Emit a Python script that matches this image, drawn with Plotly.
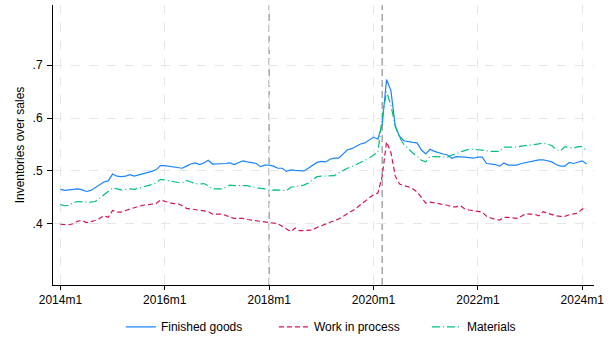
import plotly.graph_objects as go

# Monthly ratios of inventories to sales, 2014m1 .. 2024m2
start_year = 2014
finished_goods = [
    .465, .463, .464, .465, .466, .464, .461, .463, .468, .473, .479, .481,
    .494, .490, .489, .490, .493, .490, .492, .494, .496, .499, .502, .510,
    .510, .509, .508, .506, .505, .509, .513, .515, .512, .515, .520, .513,
    .513, .513, .514, .515, .512, .516, .519, .517, .515, .514, .508, .511,
    .511, .509, .505, .505, .499, .502, .501, .500, .500, .505, .511, .516,
    .518, .517, .522, .524, .524, .532, .540, .542, .547, .551, .553, .558,
    .564, .560, .588, .673, .652, .585, .565, .557, .555, .554, .553, .540,
    .532, .541, .537, .534, .532, .530, .524, .527, .527, .526, .525, .524,
    .526, .526, .514, .513, .512, .509, .515, .511, .511, .511, .514, .516,
    .518, .519, .521, .521, .519, .517, .512, .509, .509, .516, .514, .516,
    .519, .513,
]
work_in_process = [
    .399, .398, .398, .400, .405, .406, .402, .404, .406, .410, .415, .412,
    .425, .422, .422, .425, .428, .431, .433, .435, .436, .437, .438, .445,
    .442, .440, .438, .438, .434, .429, .428, .427, .426, .424, .423, .418,
    .418, .418, .416, .412, .410, .410, .410, .408, .407, .405, .404, .403,
    .402, .401, .400, .395, .390, .385, .392, .387, .387, .387, .388, .393,
    .396, .400, .403, .406, .409, .414, .419, .425, .429, .436, .442, .448,
    .455, .458, .490, .555, .535, .490, .475, .472, .470, .466, .460, .450,
    .439, .441, .440, .438, .436, .435, .432, .432, .434, .428, .426, .425,
    .424, .422, .414, .411, .408, .407, .412, .412, .411, .410, .414, .419,
    .418, .418, .415, .423, .420, .417, .415, .414, .414, .417, .419, .420,
    .428, .426,
]
materials = [
    .436, .434, .435, .440, .442, .441, .441, .441, .442, .448, .455, .462,
    .468, .466, .464, .465, .466, .465, .467, .470, .472, .474, .477, .484,
    .483, .481, .479, .478, .477, .482, .479, .476, .475, .476, .472, .466,
    .466, .466, .469, .473, .472, .472, .472, .472, .470, .468, .467, .466,
    .463, .464, .464, .463, .463, .469, .470, .471, .473, .477, .483, .489,
    .490, .490, .491, .491, .496, .501, .505, .508, .512, .516, .519, .524,
    .530, .535, .600, .650, .624, .585, .563, .550, .542, .534, .528, .520,
    .517, .527, .527, .527, .527, .526, .530, .532, .536, .539, .541, .541,
    .540, .538, .537, .537, .537, .537, .545, .545, .544, .545, .547, .548,
    .548, .550, .551, .553, .550, .548, .540, .538, .546, .545, .543, .546,
    .546, .538,
]

months = list(range(len(finished_goods)))  # 0 = 2014m1
tick_vals = [0, 24, 48, 72, 96, 120]
tick_text = [f"{start_year + v // 12}m{v % 12 + 1}" for v in tick_vals]
y_ticks = [0.4, 0.5, 0.6, 0.7]
y_text = [".4", ".5", ".6", ".7"]
event_months = [48, 74]  # 2018m1, 2020m3

FONT = "Liberation Sans, Arial, sans-serif"
FS = 12

fig = go.Figure()
fig.add_trace(go.Scatter(x=months, y=finished_goods, mode="lines", name="Finished goods",
                         line=dict(color="#1a85ff", width=1.2)))
fig.add_trace(go.Scatter(x=months, y=work_in_process, mode="lines", name="Work in process",
                         line=dict(color="#d41159", width=1.2, dash="5px,3px")))
fig.add_trace(go.Scatter(x=months, y=materials, mode="lines", name="Materials",
                         line=dict(color="#00bf7f", width=1.2, dash="8px,3px,1px,3px")))

for m in event_months:
    fig.add_shape(type="line", xref="x", yref="paper", x0=m, x1=m, y0=0, y1=1,
                  line=dict(color="#a6a6a6", width=1.5, dash="7px,4px"), layer="below")

fig.update_layout(
    width=613, height=344,
    margin=dict(l=53, r=19, t=5, b=59),
    paper_bgcolor="white", plot_bgcolor="white",
    font=dict(family=FONT, size=FS, color="#000000"),
    showlegend=True,
    legend=dict(orientation="h", xref="paper", x=0.1255, xanchor="left",
                yref="container", y=0.05, yanchor="middle",
                font=dict(size=FS), itemwidth=30, traceorder="normal",
                entrywidth=108, entrywidthmode="pixels"),
)
fig.update_xaxes(
    range=[-1.7, 122.7], tickvals=tick_vals, ticktext=tick_text,
    showline=True, linecolor="black", linewidth=1,
    ticks="outside", ticklen=4, tickcolor="black",
    showgrid=True, gridcolor="#e6e6e6", griddash="dash", gridwidth=1,
    zeroline=False, tickfont=dict(size=FS),
)
fig.update_yaxes(
    range=[0.284, 0.814], tickvals=y_ticks, ticktext=y_text,
    showline=True, linecolor="black", linewidth=1,
    ticks="outside", ticklen=5, tickcolor="black", ticklabelstandoff=2,
    showgrid=True, gridcolor="#e6e6e6", griddash="dash", gridwidth=1,
    zeroline=False, tickfont=dict(size=FS),
    title=dict(text="Inventories over sales", font=dict(size=FS), standoff=5),
)

fig.write_html("out.html")
